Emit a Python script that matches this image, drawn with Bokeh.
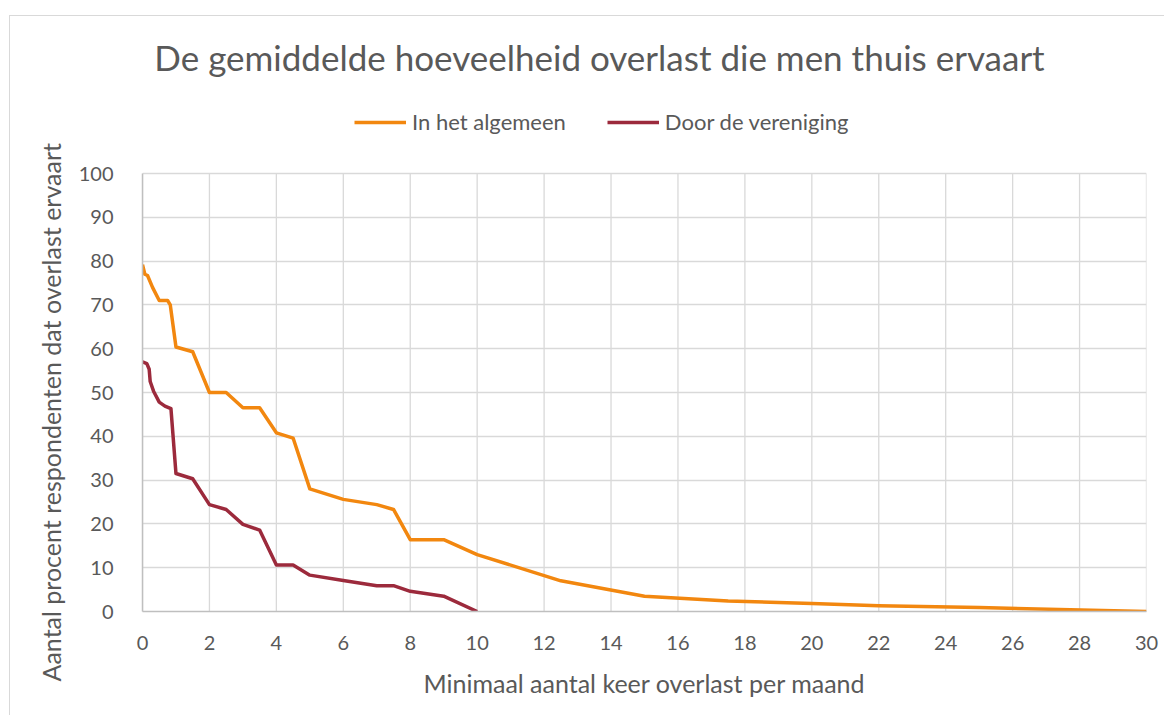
from bokeh.plotting import figure
from bokeh.models import Legend, LegendItem, FixedTicker, Range1d, Title, Label
from bokeh.embed import file_html
from bokeh.resources import INLINE

title_text = "De gemiddelde hoeveelheid overlast die men thuis ervaart"
x_title = "Minimaal aantal keer overlast per maand"
y_title = "Aantal procent respondenten dat overlast ervaart"

series_names = ["In het algemeen", "Door de vereniging"]

x_algemeen = [0, 0.07, 0.15, 0.3, 0.5, 0.75, 0.83, 1, 1.5, 2, 2.5, 3, 3.5, 4, 4.5, 5, 6, 7, 7.5,
              8, 9, 10, 12.5, 15, 17.5, 20, 22, 25, 30]
y_algemeen = [79.2, 77.0, 76.7, 74.0, 71.0, 71.0, 70.0, 60.4, 59.3, 50.0, 50.0, 46.5, 46.5, 40.8,
              39.6, 28.0, 25.6, 24.4, 23.3, 16.4, 16.4, 13.0, 7.0, 3.5, 2.4, 1.8, 1.3, 0.9, 0.0]

x_vereniging = [0, 0.13, 0.2, 0.23, 0.33, 0.5, 0.67, 0.85, 1, 1.5, 2, 2.5, 3, 3.5, 4, 4.5, 5, 6,
                7, 7.5, 8, 9, 10]
y_vereniging = [57.0, 56.6, 55.3, 52.5, 50.3, 47.8, 46.9, 46.3, 31.5, 30.3, 24.4, 23.3, 19.9, 18.6,
                10.6, 10.6, 8.3, 7.1, 5.9, 5.9, 4.6, 3.5, 0.0]

x_ticks = list(range(0, 31, 2))
y_ticks = list(range(0, 101, 10))

ORANGE = "#F2870F"
DARKRED = "#9C2A3C"
TEXT = "#595959"
GRID = "#d9d9d9"
FONT = "Lato"

# layout (pixels)
FRAME_W, FRAME_H, PLOT_H = 1004, 591, 438   # PLOT_H = pixel height of 0..100
Y_END = 100 * FRAME_H / PLOT_H
px_x = 30 / FRAME_W
px_y = 100 / PLOT_H

p = figure(width=1155, height=700, output_backend="svg", toolbar_location=None,
           x_range=Range1d(0, 30), y_range=Range1d(0, Y_END),
           min_border_left=132, min_border_right=19, min_border_top=4, min_border_bottom=105)
p.margin = (15, 0, 0, 9)
p.styles = {"border-left": "1px solid #d9d9d9", "border-top": "1px solid #d9d9d9"}
p.outline_line_color = None

p.xaxis.ticker = FixedTicker(ticks=x_ticks)
p.yaxis.ticker = FixedTicker(ticks=y_ticks)
p.yaxis.bounds = (0, 100)
for ax in (p.xaxis[0], p.yaxis[0]):
    ax.axis_line_color = "#bfbfbf"
    ax.axis_line_width = 1.5
    ax.major_tick_line_color = None
    ax.minor_tick_line_color = None
    ax.major_label_text_font = FONT
    ax.major_label_text_font_size = "20px"
    ax.major_label_text_color = TEXT
p.yaxis.major_label_standoff = 23
p.xaxis.major_label_standoff = 18
p.xaxis.axis_label = x_title
p.xaxis.axis_label_text_font = FONT
p.xaxis.axis_label_text_font_size = "25px"
p.xaxis.axis_label_text_font_style = "normal"
p.xaxis.axis_label_text_color = TEXT
p.xaxis.axis_label_standoff = 15

p.xgrid.visible = False
p.ygrid.grid_line_color = GRID
p.ygrid.grid_line_width = 1.3
p.segment(x0=x_ticks, y0=[0] * len(x_ticks), x1=x_ticks, y1=[100] * len(x_ticks),
          line_color=GRID, line_width=1.3, level="underlay")

r1 = p.line(x_algemeen, y_algemeen, line_color=ORANGE, line_width=3.5, line_join="round")
r2 = p.line(x_vereniging, y_vereniging, line_color=DARKRED, line_width=3.5, line_join="round")

legend = Legend(items=[LegendItem(label=series_names[0], renderers=[r1]),
                       LegendItem(label=series_names[1], renderers=[r2])],
                orientation="horizontal", location=(212, 476),
                glyph_width=52, glyph_height=20, label_standoff=6, spacing=41,
                padding=0, margin=0, border_line_color=None, background_fill_alpha=0,
                label_text_font=FONT, label_text_font_size="22px", label_text_color=TEXT)
p.add_layout(legend, "center")

p.add_layout(Label(x=(599 - 142) * px_x, y=(612 - 57) * px_y, text=title_text,
                   text_align="center", text_baseline="alphabetic",
                   text_font=FONT, text_font_size="35px", text_color=TEXT))
p.add_layout(Title(text=y_title, align="left", offset=-70, standoff=20,
                   text_font=FONT, text_font_size="25px", text_font_style="normal",
                   text_color=TEXT), "left")

open("out.html", "w").write(file_html(p, INLINE))
